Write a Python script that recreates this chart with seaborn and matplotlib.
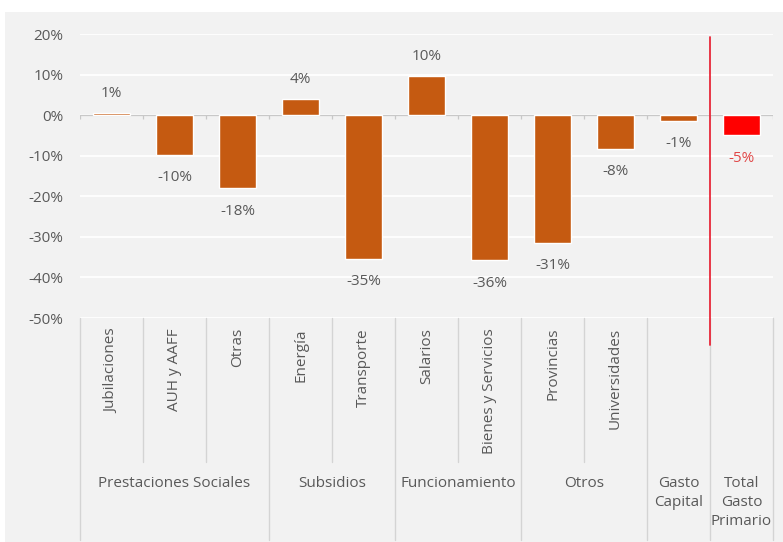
import numpy as np
import pandas as pd
import seaborn as sns
import matplotlib.pyplot as plt
from matplotlib.patches import Rectangle
from matplotlib.transforms import blended_transform_factory

# Datos: variación real interanual del gasto (%)
rubros = ["Jubilaciones", "AUH y AAFF", "Otras", "Energía", "Transporte", "Salarios",
          "Bienes y Servicios", "Provincias", "Universidades", "Gasto Capital",
          "Total Gasto Primario"]
sub_labels = ["Jubilaciones", "AUH y AAFF", "Otras", "Energía", "Transporte", "Salarios",
              "Bienes y Servicios", "Provincias", "Universidades", "", ""]
variacion = [0.6, -9.8, -18.0, 4.0, -35.4, 9.7, -35.8, -31.4, -8.3, -1.4, -5.0]
grupos = ["Prestaciones Sociales", "Subsidios", "Funcionamiento", "Otros",
          "Gasto\nCapital", "Total\nGasto\nPrimario"]
grupo_n = [3, 2, 2, 2, 1, 1]
y_ticks = [20, 10, 0, -10, -20, -30, -40, -50]

naranja = "#C55A11"
rojo = "#FF0000"
gris_txt = "#595959"
gris_lin = "#d4d4d4"
fondo = "#f2f2f2"
fs = 11

df = pd.DataFrame({"rubro": rubros, "var": variacion})
colores = [naranja] * (len(rubros) - 1) + [rojo]

sns.set_style("white", {"axes.facecolor": fondo})
plt.rcParams["font.family"] = ["Open Sans", "DejaVu Sans"]

W, H = 783, 542
fig = plt.figure(figsize=(W / 100, H / 100), dpi=100, facecolor="white")
fig.patches.append(Rectangle((5 / W, 0), 1 - 5 / W, 1 - 12 / H, transform=fig.transFigure,
                             facecolor=fondo, edgecolor="none", zorder=-10))

ax = fig.add_axes([80 / W, 1 - 318 / H, (773 - 80) / W, (318 - 34) / H])
ax.set_facecolor(fondo)

sns.barplot(data=df, x="rubro", y="var", hue="rubro", palette=colores, legend=False,
            width=0.6, saturation=1, ax=ax, zorder=3)

ax.set_ylim(-50, 20)
ax.set_xlim(-0.5, len(rubros) - 0.5)
ax.set_yticks(y_ticks)
ax.set_yticklabels([f"{t}%" for t in y_ticks], color=gris_txt, fontsize=fs)
ax.tick_params(axis="y", length=0, pad=12)
ax.set_xticks([])
ax.set_xlabel("")
ax.set_ylabel("")
for s in ax.spines.values():
    s.set_visible(False)
for t in y_ticks:
    ax.axhline(t, color="white", lw=1.3, zorder=1)
ax.axhline(0, color="#c8c8c8", lw=0.9, zorder=2)

bordes = np.arange(len(rubros) + 1) - 0.5
ax.vlines(bordes, -0.9, 0, color="#c8c8c8", lw=0.9, zorder=2)

# etiquetas de valor
for i, v in enumerate(variacion):
    off = 19 if v >= 0 else -23
    ax.annotate(f"{v:.0f}%", xy=(i, v), xytext=(0, off), textcoords="offset pixels",
                ha="center", va="center", fontsize=fs,
                color="#e04848" if i == len(rubros) - 1 else gris_txt)

# eje x multinivel
bt = blended_transform_factory(ax.transData, fig.transFigure)
y_top = 1 - 318 / H
limites_grupo = [-0.5] + list(np.cumsum(grupo_n) - 0.5)
for b in bordes:
    y_bot = 1 - 540 / H if b in limites_grupo else 1 - 462 / H
    ax.plot([b, b], [y_top, y_bot], transform=bt, color=gris_lin, lw=1, clip_on=False)

for i, lbl in enumerate(sub_labels):
    if lbl:
        ax.text(i, 1 - 328 / H, lbl, transform=bt, rotation=90, ha="center", va="top",
                fontsize=fs, color=gris_txt)

inicio = 0
for g, n in zip(grupos, grupo_n):
    cx = inicio + (n - 1) / 2
    ax.text(cx, 1 - 476 / H, g, transform=bt, ha="center", va="top", fontsize=fs,
            color=gris_txt, linespacing=1.35)
    inicio += n

# línea roja separando el total
ax.plot([9.5, 9.5], [1 - 37 / H, 1 - 345 / H], transform=bt, color="#e8283a", lw=1.3,
        clip_on=False, zorder=5)

fig.savefig("out.png", dpi=100, facecolor="white")
